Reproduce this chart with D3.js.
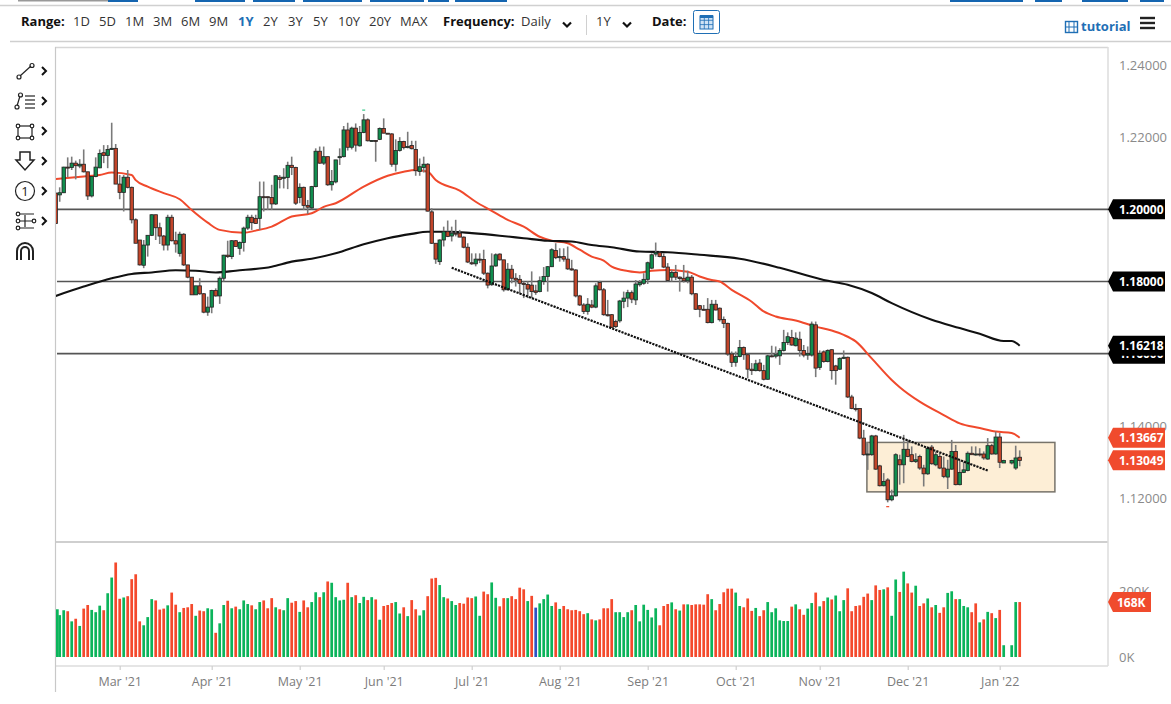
<!DOCTYPE html>
<html><head><meta charset="utf-8">
<script src="https://cdnjs.cloudflare.com/ajax/libs/d3/7.8.5/d3.min.js"></script>
<style>html,body{margin:0;padding:0;background:#fff;overflow:hidden}svg{display:block;font-family:"Open Sans",sans-serif}</style>
</head><body><svg id="c" width="1171" height="704"></svg>
<script>
const rangeLabels=["1D","5D","1M","3M","6M","9M","1Y","2Y","3Y","5Y","10Y","20Y","MAX"];
const monthLabels=["Mar '21","Apr '21","May '21","Jun '21","Jul '21","Aug '21","Sep '21","Oct '21","Nov '21","Dec '21","Jan '22"];
const monthBars=[16,39,61,82,104,126,148,170,191,213,236];
const priceTicks=[1.24,1.22,1.14,1.12];
const levelLines=[1.20,1.18,1.16];
const opens=[1.2045,1.2040,1.2046,1.2117,1.2116,1.2128,1.2120,1.2125,1.2104,1.2037,
1.2091,1.2115,1.2157,1.2149,1.2166,1.2169,1.2070,1.2047,1.2089,1.2061,
1.1971,1.1915,1.1845,1.1901,1.1928,1.1985,1.1949,1.1926,1.1901,1.1978,
1.1913,1.1878,1.1931,1.1846,1.1812,1.1763,1.1788,1.1766,1.1715,1.1729,
1.1775,1.1760,1.1809,1.1873,1.1869,1.1913,1.1892,1.1908,1.1948,1.1978,
1.1975,1.1975,1.2035,1.2035,1.2033,1.2015,1.2089,1.2086,1.2088,1.2122,
1.2116,1.2033,1.2061,1.2011,1.2004,1.2063,1.2161,1.2128,1.2146,1.2068,
1.2076,1.2144,1.2146,1.2220,1.2172,1.2225,1.2176,1.2213,1.2248,1.2190,
1.2191,1.2194,1.2224,1.2211,1.2209,1.2125,1.2163,1.2188,1.2171,1.2177,
1.2166,1.2105,1.2116,1.2125,1.1993,1.1906,1.1855,1.1915,1.1938,1.1926,
1.1934,1.1934,1.1923,1.1895,1.1852,1.1849,1.1862,1.1861,1.1823,1.1791,
1.1843,1.1876,1.1860,1.1777,1.1834,1.1809,1.1806,1.1795,1.1792,1.1790,
1.1774,1.1772,1.1800,1.1814,1.1841,1.1886,1.1866,1.1869,1.1862,1.1835,
1.1832,1.1760,1.1735,1.1717,1.1735,1.1729,1.1797,1.1777,1.1708,1.1708,
1.1689,1.1691,1.1745,1.1754,1.1769,1.1749,1.1791,1.1795,1.1806,1.1837,
1.1876,1.1880,1.1869,1.1840,1.1812,1.1825,1.1812,1.1809,1.1802,1.1812,
1.1766,1.1733,1.1723,1.1723,1.1686,1.1737,1.1726,1.1695,1.1684,1.1599,
1.1576,1.1592,1.1617,1.1597,1.1557,1.1553,1.1574,1.1553,1.1529,1.1594,
1.1593,1.1594,1.1609,1.1631,1.1645,1.1622,1.1640,1.1609,1.1596,1.1596,
1.1680,1.1562,1.1605,1.1578,1.1611,1.1566,1.1557,1.1587,1.1590,1.1480,
1.1448,1.1448,1.1366,1.1320,1.1320,1.1372,1.1289,1.1234,1.1250,1.1195,
1.1206,1.1306,1.1292,1.1335,1.1320,1.1301,1.1315,1.1283,1.1267,1.1341,
1.1292,1.1315,1.1283,1.1258,1.1280,1.1329,1.1237,1.1271,1.1276,1.1324,
1.1321,1.1322,1.1322,1.1308,1.1345,1.1322,1.1369,1.1297,null,1.1297,1.1283,1.1313];
const highs=[1.2046,1.2061,1.2118,1.2144,1.2146,1.2135,1.2139,1.2166,1.2104,1.2091,
1.2144,1.2166,1.2178,1.2178,1.2240,1.2181,1.2095,1.2095,1.2109,1.2063,
1.1975,1.1915,1.1915,1.1928,1.1986,1.1985,1.1963,1.1929,1.1985,1.1985,
1.1938,1.1938,1.1934,1.1846,1.1812,1.1788,1.1809,1.1768,1.1758,1.1777,
1.1781,1.1814,1.1874,1.1913,1.1915,1.1915,1.1911,1.1952,1.1985,1.1985,
1.1985,1.2077,1.2077,1.2035,1.2068,1.2095,1.2095,1.2114,1.2132,1.2146,
1.2118,1.2072,1.2063,1.2026,1.2065,1.2169,1.2174,1.2174,1.2146,1.2109,
1.2137,1.2169,1.2231,1.2240,1.2229,1.2238,1.2231,1.2264,1.2252,1.2192,
1.2192,1.2227,1.2252,1.2211,1.2211,1.2194,1.2200,1.2190,1.2215,1.2190,
1.2190,1.2141,1.2146,1.2128,1.2003,1.1906,1.1917,1.1952,1.1969,1.1952,
1.1971,1.1943,1.1925,1.1906,1.1878,1.1878,1.1878,1.1888,1.1825,1.1878,
1.1878,1.1878,1.1860,1.1851,1.1846,1.1823,1.1818,1.1800,1.1800,1.1828,
1.1791,1.1814,1.1840,1.1843,1.1892,1.1906,1.1892,1.1892,1.1897,1.1860,
1.1834,1.1763,1.1740,1.1754,1.1749,1.1795,1.1802,1.1782,1.1749,1.1710,
1.1694,1.1749,1.1772,1.1777,1.1775,1.1804,1.1804,1.1823,1.1855,1.1878,
1.1908,1.1883,1.1878,1.1851,1.1832,1.1846,1.1814,1.1846,1.1830,1.1818,
1.1768,1.1735,1.1735,1.1754,1.1749,1.1749,1.1728,1.1703,1.1686,1.1606,
1.1606,1.1638,1.1620,1.1600,1.1574,1.1583,1.1585,1.1569,1.1597,1.1622,
1.1620,1.1615,1.1666,1.1659,1.1666,1.1659,1.1661,1.1624,1.1620,1.1689,
1.1689,1.1609,1.1609,1.1612,1.1612,1.1569,1.1590,1.1609,1.1592,1.1486,
1.1461,1.1449,1.1389,1.1352,1.1375,1.1375,1.1292,1.1269,1.1255,1.1223,
1.1324,1.1320,1.1375,1.1361,1.1343,1.1324,1.1320,1.1292,1.1343,1.1347,
1.1329,1.1324,1.1315,1.1306,1.1361,1.1347,1.1306,1.1301,1.1329,1.1343,
1.1343,1.1338,1.1329,1.1366,1.1350,1.1384,1.1380,1.1306,null,1.1306,1.1345,1.1332];
const lows=[1.1961,1.2021,1.2045,1.2089,1.2109,1.2083,1.2114,1.2102,1.2026,1.2033,
1.2089,1.2114,1.2128,1.2114,1.2165,1.2070,1.2028,1.1994,1.2058,1.1961,
1.1906,1.1844,1.1837,1.1869,1.1926,1.1915,1.1904,1.1886,1.1886,1.1911,
1.1880,1.1869,1.1843,1.1809,1.1763,1.1763,1.1763,1.1712,1.1705,1.1712,
1.1758,1.1738,1.1800,1.1865,1.1862,1.1897,1.1874,1.1883,1.1943,1.1943,
1.1960,1.1943,1.1994,1.1998,1.1998,1.2012,1.2058,1.2058,1.2056,1.2095,
1.2012,1.2017,1.1998,1.1987,1.2000,1.2061,1.2126,1.2123,1.2065,1.2052,
1.2072,1.2123,1.2144,1.2163,1.2166,1.2160,1.2174,1.2211,1.2188,1.2188,
1.2132,1.2192,1.2211,1.2209,1.2118,1.2105,1.2160,1.2166,1.2169,1.2166,
1.2093,1.2093,1.2102,1.1994,1.1904,1.1849,1.1846,1.1897,1.1923,1.1911,
1.1925,1.1923,1.1892,1.1851,1.1846,1.1842,1.1851,1.1818,1.1781,1.1788,
1.1841,1.1858,1.1772,1.1775,1.1795,1.1786,1.1766,1.1754,1.1754,1.1754,
1.1763,1.1770,1.1791,1.1772,1.1840,1.1862,1.1855,1.1855,1.1832,1.1830,
1.1756,1.1732,1.1710,1.1708,1.1726,1.1726,1.1775,1.1705,1.1703,1.1673,
1.1671,1.1686,1.1726,1.1729,1.1740,1.1735,1.1786,1.1791,1.1793,1.1834,
1.1869,1.1867,1.1837,1.1800,1.1800,1.1804,1.1772,1.1797,1.1795,1.1762,
1.1721,1.1701,1.1720,1.1684,1.1684,1.1720,1.1689,1.1671,1.1594,1.1563,
1.1564,1.1590,1.1583,1.1532,1.1541,1.1551,1.1550,1.1526,1.1528,1.1590,
1.1587,1.1569,1.1606,1.1624,1.1622,1.1620,1.1592,1.1590,1.1583,1.1592,
1.1535,1.1555,1.1575,1.1576,1.1528,1.1514,1.1555,1.1585,1.1477,1.1446,
1.1440,1.1363,1.1317,1.1278,1.1317,1.1278,1.1232,1.1232,1.1188,1.1191,
1.1204,1.1237,1.1241,1.1313,1.1299,1.1297,1.1278,1.1232,1.1264,1.1292,
1.1288,1.1280,1.1255,1.1225,1.1278,1.1235,1.1235,1.1269,1.1274,1.1320,
1.1317,1.1315,1.1306,1.1306,1.1320,1.1320,1.1283,1.1297,null,1.1293,1.1278,1.1288];
const closes=[1.1961,1.2046,1.2117,1.2116,1.2128,1.2121,1.2125,1.2104,1.2037,1.2091,
1.2117,1.2155,1.2149,1.2166,1.2169,1.2070,1.2047,1.2089,1.2061,1.1971,
1.1906,1.1846,1.1901,1.1928,1.1985,1.1949,1.1926,1.1901,1.1978,1.1913,
1.1904,1.1931,1.1846,1.1812,1.1763,1.1788,1.1766,1.1715,1.1729,1.1775,
1.1760,1.1809,1.1873,1.1869,1.1913,1.1897,1.1908,1.1948,1.1978,1.1963,
1.1961,1.2035,1.2034,1.2034,1.2015,1.2093,1.2083,1.2089,1.2122,1.2116,
1.2017,1.2061,1.2011,1.2006,1.2063,1.2161,1.2128,1.2146,1.2068,1.2077,
1.2137,1.2146,1.2220,1.2172,1.2225,1.2178,1.2213,1.2248,1.2190,1.2191,
1.2190,1.2224,1.2211,1.2210,1.2125,1.2163,1.2188,1.2171,1.2174,1.2168,
1.2107,1.2118,1.2125,1.1995,1.1906,1.1862,1.1915,1.1938,1.1925,1.1934,
1.1933,1.1923,1.1895,1.1854,1.1849,1.1862,1.1861,1.1823,1.1790,1.1843,
1.1874,1.1860,1.1777,1.1834,1.1809,1.1804,1.1795,1.1792,1.1779,1.1772,
1.1770,1.1802,1.1814,1.1841,1.1888,1.1866,1.1869,1.1862,1.1835,1.1832,
1.1760,1.1735,1.1717,1.1737,1.1729,1.1788,1.1777,1.1708,1.1705,1.1673,
1.1675,1.1746,1.1754,1.1769,1.1751,1.1793,1.1797,1.1806,1.1852,1.1874,
1.1880,1.1869,1.1840,1.1803,1.1825,1.1812,1.1808,1.1802,1.1812,1.1766,
1.1723,1.1723,1.1722,1.1686,1.1737,1.1721,1.1694,1.1684,1.1599,1.1576,
1.1592,1.1617,1.1597,1.1557,1.1553,1.1572,1.1553,1.1529,1.1594,1.1593,
1.1597,1.1609,1.1631,1.1647,1.1624,1.1643,1.1609,1.1596,1.1600,1.1682,
1.1560,1.1601,1.1578,1.1609,1.1553,1.1553,1.1587,1.1590,1.1480,1.1448,
1.1446,1.1366,1.1320,1.1322,1.1372,1.1280,1.1234,1.1246,1.1195,1.1206,
1.1320,1.1292,1.1335,1.1315,1.1301,1.1306,1.1283,1.1267,1.1338,1.1295,
1.1320,1.1283,1.1260,1.1280,1.1329,1.1237,1.1271,1.1278,1.1324,1.1320,
1.1322,1.1320,1.1311,1.1345,1.1322,1.1369,1.1299,1.1304,null,1.1304,1.1311,1.1304];
const volumesK=[146,128,143,140,109,117,95,148,159,144,
137,157,143,195,243,289,178,182,186,238,
253,109,97,122,177,173,145,148,158,197,
160,137,150,152,162,126,142,140,149,146,
74,103,159,172,149,154,146,173,162,158,
146,168,173,149,180,152,146,143,180,166,
171,138,173,152,168,198,183,198,231,227,
183,173,175,227,183,189,165,184,174,183,
176,114,156,159,165,168,133,152,125,174,
146,127,143,186,240,242,220,183,179,171,
159,165,163,182,180,185,126,200,192,228,
181,155,180,180,186,177,212,207,171,187,
151,164,177,191,156,167,147,156,146,143,
144,140,131,134,115,112,115,149,149,177,
137,137,122,137,143,159,109,160,144,121,
149,97,156,162,167,146,142,161,161,159,
161,161,160,192,177,143,162,198,209,209,
197,156,152,179,141,150,125,143,168,137,
149,112,110,110,154,161,146,129,148,165,
197,155,171,182,176,188,140,174,210,140,
156,158,184,194,174,219,205,207,213,126,
237,199,261,225,197,218,156,164,179,152,
159,135,152,196,201,177,177,156,152,137,
164,106,115,138,134,119,144,36,null,36,168,168];
const volumeDirs=("gggrgrgrrg"+"ggrggrrgrr"+"rrgggrrrgr"+"rgrrrgrrgg"+"rggrgrgggr"+"ggrrrgrggr"+"rgrrggrgrg"+"gggrgrggrg"+"rgrrrggrgr"+"rggrrrggrg"+
"grrrrggrrg"+"grrgrrrrgr"+"bggggrgrrr"+"rrrgrgrrrr"+"ggggrggggg"+"grrrgrgrgr"+"rrrrgrrrrr"+"ggrrrgrrgg"+"ggggrgrrgg"+"rgrgrgggrr"+
"rrrrgrrgrg"+"grgrrgrrgr"+"grrggrgggr"+"rgrgrgrgxggr").split("");
const ma50Bars=[0,7,11,14,19,20,23,27,31,34,38,41,47,50,54,59,64,67,70,77,83,87,90,93,95,101,105,109,113,117,121,124,128,131,134,137,139,143,146,149,153,158,161,164,166,169,174,177,180,185,190,194,197,200,204,209,211,216,222,226,231,235,239,241];
const ma50=[1.2084,1.2091,1.2095,1.2102,1.2095,1.2081,1.2063,1.2045,1.2028,1.1998,1.1963,1.1943,1.1935,1.1941,1.1952,1.1980,1.1989,1.2007,1.2017,1.2063,1.2093,1.2104,1.2109,1.2104,1.2081,1.2052,1.2021,1.1996,1.1971,1.1952,1.1924,1.1913,1.1906,1.1888,1.1869,1.1858,1.1841,1.1829,1.1825,1.1830,1.1832,1.1827,1.1814,1.1804,1.1800,1.1777,1.1744,1.1717,1.1703,1.1692,1.1675,1.1664,1.1652,1.1634,1.1587,1.1527,1.1507,1.1467,1.1430,1.1407,1.1394,1.1384,1.1380,1.1367];
const ma200Bars=[0,7,14,19,24,30,35,40,45,54,59,64,70,77,83,89,93,99,104,111,117,123,129,134,139,146,153,161,171,181,192,198,204,209,219,226,231,237,239,241];
const ma200=[1.1760,1.1786,1.1809,1.1821,1.1825,1.1831,1.1830,1.1825,1.1830,1.1841,1.1855,1.1863,1.1878,1.1903,1.1920,1.1932,1.1938,1.1938,1.1934,1.1927,1.1920,1.1913,1.1911,1.1901,1.1895,1.1883,1.1881,1.1874,1.1863,1.1838,1.1804,1.1791,1.1768,1.1740,1.1694,1.1671,1.1655,1.1635,1.1635,1.1622];
const trendBars=[99,233], trendPrices=[1.1838,1.1276];
const boxBars=[202.8,249.8], boxPrices=[1.1354,1.1217];
const blackTags=[[1.2,"1.20000"],[1.18,"1.18000"],[1.16,"1.16000"]];
const lastBlack=1.16218, lastRed=[1.13667,1.13049], lastVolumeK=168;

const svg=d3.select("#c");
const x=d3.scaleLinear().domain([0,241]).range([55.7,1019.7]);
const y=d3.scaleLinear().domain([1.12,1.24]).range([498,65]);
const v=d3.scaleLinear().domain([0,200]).range([657,591.6]);
const grey="#cfcfcf";
const hline=(x1,x2,yy,w=1.5,c=grey)=>svg.append("line").attr("x1",x1).attr("x2",x2).attr("y1",yy).attr("y2",yy).attr("stroke",c).attr("stroke-width",w);
const vline=(xx,y1,y2,w=1.5,c=grey)=>svg.append("line").attr("x1",xx).attr("x2",xx).attr("y1",y1).attr("y2",y2).attr("stroke",c).attr("stroke-width",w);

// header
svg.append("defs").append("clipPath").attr("id","plot").append("rect").attr("x",56).attr("y",48).attr("width",1052).attr("height",493);
const topBlue=[[108,138],[195,245],[253,295],[303,362],[370,424],[428,449],[455,507],[950,1023],[1035,1062],[1082,1128],[1140,1164]];
svg.append("rect").attr("x",18).attr("y",0).attr("width",90).attr("height",1.5).attr("fill","#999");
topBlue.forEach(b=>svg.append("rect").attr("x",b[0]).attr("y",0).attr("width",b[1]-b[0]).attr("height",2).attr("fill","#1565b0"));
hline(0,1171,5.5,1.5,"#d0d0d0"); hline(10,1171,41.5,1.5,"#cfcfcf");
const hdr=(t,xx,o={})=>svg.append("text").attr("x",xx).attr("y",o.y||26).attr("font-size",o.s||13).attr("font-weight",o.b?700:400).attr("fill",o.c||"#333").text(t);
hdr("Range:",21,{b:1,c:"#111"});
const rangeX=[73,99,125,153,181,209,238,263,288,313,338,369,400];
rangeLabels.forEach((t,i)=>hdr(t,rangeX[i],t==="1Y"?{b:1,c:"#1f6fb5"}:{}));
hdr("Frequency:",443,{b:1,c:"#111"}); hdr("Daily",521);
vline(586.5,15,35,1,"#d0d0d0");
hdr("1Y",596); hdr("Date:",652,{b:1,c:"#111"});
const chev=(cx,cy,s=1)=>svg.append("path").attr("d",`M${cx-4*s} ${cy-2.5*s}L${cx} ${cy+1.5*s}L${cx+4*s} ${cy-2.5*s}`).attr("fill","none").attr("stroke","#111").attr("stroke-width",2.2);
chev(567,25); chev(627,25);
svg.append("rect").attr("x",693.5).attr("y",10.5).attr("width",26).attr("height",23).attr("rx",2).attr("fill","#fff").attr("stroke","#1f6fb5");
svg.append("rect").attr("x",700).attr("y",16).attr("width",13).attr("height",13).attr("fill","#cfe3f5").attr("stroke","#1f6fb5");
[1,2].forEach(k=>{vline(700+k*4.3,16,29,.8,"#1f6fb5");hline(700,713,16+k*4.3,.8,"#1f6fb5");});
hline(700,713,16.5,3,"#1f6fb5");
svg.append("rect").attr("x",1065.5).attr("y",21.5).attr("width",12).attr("height",11).attr("fill","none").attr("stroke","#1f6fb5").attr("stroke-width",1.4);
[1069,1074].forEach(a=>vline(a,21,33,1,"#1f6fb5")); hline(1065,1078,27,1,"#1f6fb5");
hdr("tutorial",1081,{b:1,c:"#1f6fb5",y:31});
[18,23,28].forEach(a=>hline(1140,1155,a,2.4,"#222"));

// left tool icons
const ink="#222";
const ic=svg.append("g").attr("fill","none").attr("stroke",ink).attr("stroke-width",1.2);
ic.append("path").attr("d","M20 76L31 66");ic.append("circle").attr("cx",19).attr("cy",77).attr("r",2);ic.append("circle").attr("cx",32).attr("cy",65.500).attr("r",2);
ic.append("path").attr("d","M17 106L20 96");ic.append("circle").attr("cx",17).attr("cy",107).attr("r",2);ic.append("circle").attr("cx",20.500).attr("cy",95).attr("r",2);
[96,100,104,108].forEach(a=>ic.append("path").attr("d",`M25 ${a}H35`));
ic.append("rect").attr("x",18).attr("y",126).attr("width",14).attr("height",12);
[[18,126],[32,126],[18,138],[32,138]].forEach(p=>ic.append("circle").attr("cx",p[0]).attr("cy",p[1]).attr("r",1.8).attr("fill","#fff"));
ic.append("path").attr("stroke-width",1.5).attr("d","M20 152H30V160H34L25 170L16 160H20Z");
ic.append("circle").attr("cx",25).attr("cy",191).attr("r",9.500);
svg.append("text").attr("x",25).attr("y",196).attr("text-anchor","middle").attr("font-size",13).attr("fill",ink).text("1");
ic.append("path").attr("d","M18 214H34M18 221H34M18 228H34M25 215V227");
[[18,214],[18,221],[34,221],[18,228]].forEach(p=>ic.append("circle").attr("cx",p[0]).attr("cy",p[1]).attr("r",1.8).attr("fill","#fff"));
ic.append("path").attr("stroke-width",2).attr("d","M17 260V251A8 8 0 0 1 33 251V260M21 260V251A4 4 0 0 1 29 251V260");
[71,101,131,161,191,221].forEach(a=>svg.append("path").attr("d",`M42 ${a-4}L46 ${a}L42 ${a+4}`).attr("fill","none").attr("stroke","#111").attr("stroke-width",2));

// frames
hline(55,1108,47.5,1.5,"#d6d6d6");
hline(55,1108,542,2,grey);
hline(55,1108,666,1.5,"#dcdcdc");
vline(55.5,47,692,1.2,"#c8c8c8");
vline(1108,47,666,1.5,"#dcdcdc");

// box behind price
const plot=svg.append("g").attr("clip-path","url(#plot)");
plot.append("rect").attr("x",x(boxBars[0])).attr("y",y(boxPrices[0])).attr("width",x(boxBars[1])-x(boxBars[0])).attr("height",y(boxPrices[1])-y(boxPrices[0])).attr("fill","#fdeed6").attr("stroke","#77736a").attr("stroke-width",1.5);
// level lines
levelLines.forEach(l=>plot.append("line").attr("x1",57).attr("x2",1108).attr("y1",y(l)).attr("y2",y(l)).attr("stroke","#555").attr("stroke-width",1.6));
// MAs
const lineGen=(xs,ys)=>d3.line().x((d,i)=>x(xs[i])).y(d=>y(d)).curve(d3.curveMonotoneX)(ys);
plot.append("path").attr("d",lineGen(ma50Bars,ma50)).attr("fill","none").attr("stroke","#f0492c").attr("stroke-width",2);
plot.append("path").attr("d",lineGen(ma200Bars,ma200)).attr("fill","none").attr("stroke","#111").attr("stroke-width",2.1);
// candles
const idx=d3.range(opens.length).filter(i=>opens[i]!==null);
plot.selectAll("line.w").data(idx).join("line").attr("class","w").attr("x1",i=>x(i)).attr("x2",i=>x(i)).attr("y1",i=>y(highs[i])).attr("y2",i=>y(lows[i])).attr("stroke","#7a7a7a").attr("stroke-width",1.6);
plot.selectAll("rect.b").data(idx).join("rect").attr("class","b").attr("x",i=>x(i)-1.7).attr("width",3.4)
 .attr("y",i=>Math.min(y(opens[i]),y(closes[i]))).attr("height",i=>Math.max(1,Math.abs(y(opens[i])-y(closes[i]))))
 .attr("fill",i=>closes[i]>=opens[i]?"#118d4e":"#c2452a").attr("stroke","#222").attr("stroke-width",.8);
// trend
plot.append("path").attr("d",d3.line().x((d,i)=>x(trendBars[i])).y(d=>y(d))(trendPrices)).attr("fill","none").attr("stroke","#111").attr("stroke-width",2.2).attr("stroke-dasharray","2.2 1.1");
// extreme markers
plot.append("line").attr("x1",x(77)-1.5).attr("x2",x(77)+1.5).attr("y1",y(1.2275)).attr("y2",y(1.2275)).attr("stroke","#35c98a").attr("stroke-width",1.2);
plot.append("line").attr("x1",x(208)-1.5).attr("x2",x(208)+1.5).attr("y1",y(1.1176)).attr("y2",y(1.1176)).attr("stroke","#f0492c").attr("stroke-width",1.2);

// volume
const vIdx=d3.range(volumesK.length).filter(i=>volumesK[i]!==null);
const vc={g:"#0bb45b",r:"#f4492c",b:"#2e52c4"};
svg.selectAll("rect.v").data(vIdx).join("rect").attr("class","v").attr("x",i=>Math.max(56,x(i)-1.35)).attr("width",2.7).attr("y",i=>v(volumesK[i])).attr("height",i=>v(0)-v(volumesK[i])).attr("fill",i=>vc[volumeDirs[i]]);

// x axis
const ax=d3.axisBottom(x).tickValues(monthBars).tickFormat((d,i)=>monthLabels[i]).tickSize(4).tickPadding(7);
const axg=svg.append("g").attr("transform","translate(0,666)").call(ax);
axg.select(".domain").remove();
axg.selectAll(".tick line").attr("stroke","#cfcfcf").attr("stroke-width",1.2);
axg.selectAll("text").attr("fill","#7c7c7c").attr("font-size",12.5).attr("font-family",'"Open Sans",sans-serif');

// price axis
const pa=d3.axisRight(y).tickValues(priceTicks).tickFormat(d3.format(".5f")).tickSize(0).tickPadding(11);
const pag=svg.append("g").attr("transform","translate(1108,0)").call(pa);
pag.select(".domain").remove();
pag.selectAll("text").attr("fill","#8a8a8a").attr("font-size",13).attr("font-family",'"Open Sans",sans-serif');
[[200,"200K"],[0,"0K"]].forEach(d=>svg.append("text").attr("x",1119).attr("y",v(d[0])+4.5).attr("font-size",13).attr("fill","#8a8a8a").text(d[1]));

const tag=(yy,txt,fill,w=57)=>{
 const L=1108,T=L+5,R=L+w,h=10;
 svg.append("path").attr("d",`M${L} ${yy}L${T} ${yy-h}H${R}V${yy+h}H${T}Z`).attr("fill",fill);
 svg.append("text").attr("x",w<50?L+9:1119).attr("y",yy+4.5).attr("font-size",12).attr("font-weight",700).attr("fill","#fff").text(txt);
};
blackTags.forEach(t=>tag(y(t[0]),t[1],"#000"));
tag(y(lastBlack),lastBlack.toFixed(5),"#000");
lastRed.forEach(p=>tag(y(p),p.toFixed(5),"#f04b2d"));
tag(v(lastVolumeK),lastVolumeK+"K","#f04b2d",43);
</script></body></html>
